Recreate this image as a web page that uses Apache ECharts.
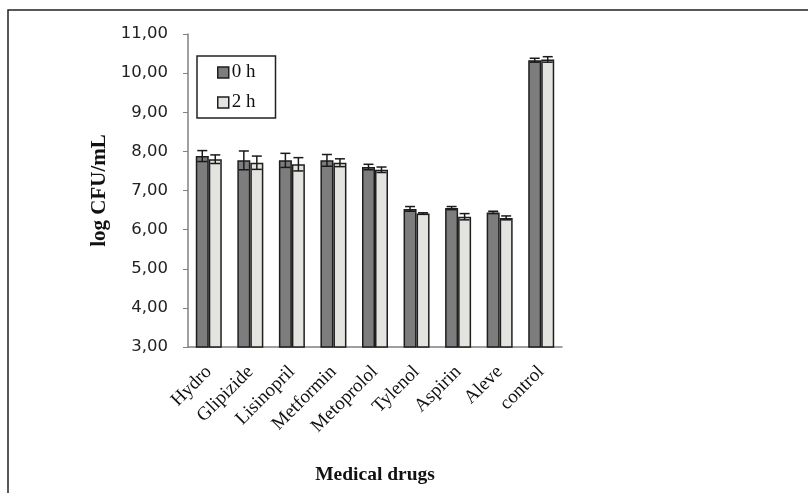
<!DOCTYPE html>
<html>
<head>
<meta charset="utf-8">
<script src="https://cdn.jsdelivr.net/npm/echarts@6/dist/echarts.min.js"></script>
<style>
  html, body { margin: 0; padding: 0; background: #fff; }
  #chart { width: 808px; height: 493px; }
</style>
</head>
<body>
<div id="chart"></div>
<script>
// categories on the x axis
const drugs = ['Hydro', 'Glipizide', 'Lisinopril', 'Metformin', 'Metoprolol', 'Tylenol', 'Aspirin', 'Aleve', 'control'];

// log CFU/mL
const h0 = [7.88, 7.77, 7.77, 7.77, 7.60, 6.53, 6.55, 6.44, 10.33];
const h2 = [7.80, 7.71, 7.67, 7.71, 7.53, 6.41, 6.33, 6.30, 10.35];

// error bar half-widths
const h0Err = [0.14, 0.24, 0.18, 0.15, 0.07, 0.06, 0.04, 0.03, 0.05];
const h2Err = [0.11, 0.17, 0.17, 0.10, 0.07, 0.02, 0.08, 0.05, 0.07];

const barW = 13;

// draws the whiskers, shifted onto the left or right bar of each pair
const errorSeries = (vals, errs, offset) => ({
    type: 'custom',
    z: 5,
    data: vals.map((v, i) => [i, v - errs[i], v + errs[i]]),
    renderItem: (params, api) => {
        const lo = api.coord([api.value(0), api.value(1)]);
        const hi = api.coord([api.value(0), api.value(2)]);
        const x = lo[0] + offset;
        const half = 5;
        const style = { stroke: '#1a1a1a', lineWidth: 1.5 };
        return {
            type: 'group',
            children: [
                { type: 'line', shape: { x1: x, y1: hi[1], x2: x, y2: lo[1] }, style },
                { type: 'line', shape: { x1: x - half, y1: hi[1], x2: x + half, y2: hi[1] }, style },
                { type: 'line', shape: { x1: x - half, y1: lo[1], x2: x + half, y2: lo[1] }, style }
            ]
        };
    }
});

const chart = echarts.init(document.getElementById('chart'));

chart.setOption({
    animation: false,
    backgroundColor: '#fff',
    graphic: [{
        type: 'rect',
        shape: { x: 8, y: 10, width: 830, height: 520 },
        style: { fill: 'none', stroke: '#222', lineWidth: 1.5 },
        silent: true
    }],
    grid: { left: 188, right: 246, top: 34, bottom: 146 },
    legend: {
        left: 197,
        top: 56,
        orient: 'vertical',
        data: ['0 h', '2 h'],
        itemWidth: 11,
        itemHeight: 11,
        itemGap: 11,
        itemStyle: { borderColor: '#1e1e1e', borderWidth: 1.5 },
        icon: 'rect',
        padding: [7, 20, 6, 20],
        borderColor: '#222',
        borderWidth: 1.5,
        textStyle: { fontFamily: 'Liberation Serif', fontSize: 19, color: '#111', padding: [0, 0, 0, -2] }
    },
    xAxis: {
        type: 'category',
        data: drugs,
        name: 'Medical drugs',
        nameLocation: 'middle',
        nameGap: 118,
        nameTextStyle: { fontFamily: 'Liberation Serif', fontWeight: 'bold', fontSize: 19.5, color: '#111' },
        axisLine: { lineStyle: { color: '#808080', width: 1.5 } },
        axisTick: { show: false },
        axisLabel: {
            rotate: 45,
            margin: 22,
            interval: 0,
            fontFamily: 'Liberation Serif',
            fontSize: 19,
            color: '#111'
        }
    },
    yAxis: {
        type: 'value',
        min: 3,
        max: 11,
        interval: 1,
        name: 'log CFU/mL',
        nameLocation: 'middle',
        nameGap: 78,
        nameTextStyle: { fontFamily: 'Liberation Serif', fontWeight: 'bold', fontSize: 21, color: '#111' },
        axisLine: { show: true, lineStyle: { color: '#808080', width: 1.5 } },
        axisTick: { show: true, length: 5, lineStyle: { color: '#808080' } },
        splitLine: { show: false },
        axisLabel: {
            margin: 20,
            fontFamily: 'DejaVu Sans',
            fontSize: 16.5,
            color: '#222',
            formatter: v => v.toFixed(2).replace('.', ',')
        }
    },
    series: [
        {
            name: '0 h',
            type: 'bar',
            data: h0,
            barWidth: barW,
            barGap: '0%',
            itemStyle: { color: '#7d7d7d', borderColor: '#1e1e1e', borderWidth: 1.5 }
        },
        {
            name: '2 h',
            type: 'bar',
            data: h2,
            barWidth: barW,
            barGap: '0%',
            itemStyle: { color: '#e3e3df', borderColor: '#1e1e1e', borderWidth: 1.5 }
        },
        errorSeries(h0, h0Err, -barW / 2),
        errorSeries(h2, h2Err, barW / 2)
    ]
});
</script>
</body>
</html>
